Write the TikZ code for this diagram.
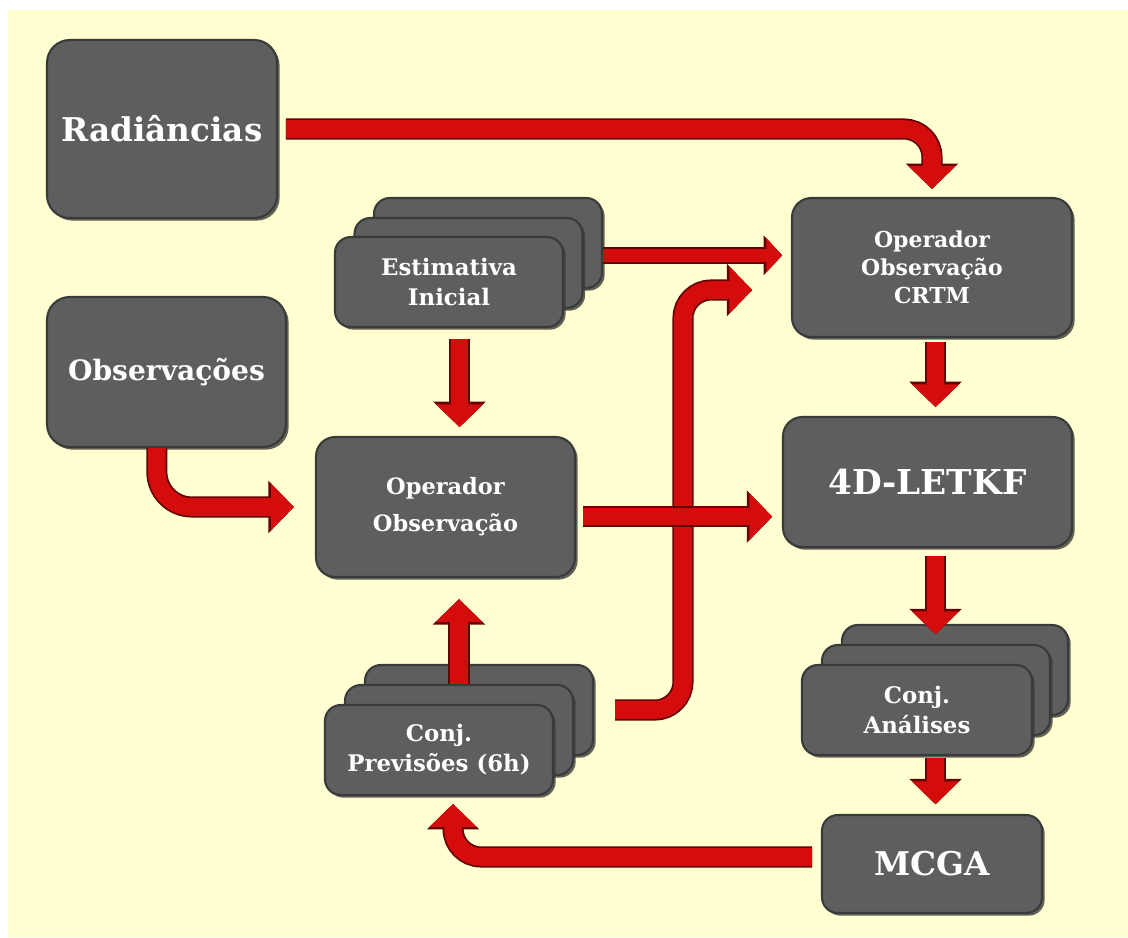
\documentclass[tikz,border=0pt]{standalone}
\usepackage{fontspec}
\setmainfont{DejaVu Serif}
\usetikzlibrary{arrows.meta,shadows}

\definecolor{bgyellow}{RGB}{255,255,210}
\definecolor{boxgray}{RGB}{94,94,94}
\definecolor{boxedge}{RGB}{58,58,58}
\definecolor{tubered}{RGB}{212,12,12}
\definecolor{tubedark}{RGB}{100,0,0}

\tikzset{
  blk/.style={draw=boxedge, line width=1.2pt, fill=boxgray, rounded corners=9pt,
    text=white, align=center, inner sep=0pt,
    drop shadow={shadow xshift=1.5pt, shadow yshift=-1.5pt, fill=boxedge, opacity=.8}},
  boxsize/.style 2 args={minimum width=#1*0.02cm, minimum height=#2*0.02cm},
  bigtxt/.style={font=\fontsize{#1}{20}\selectfont\bfseries},
  midtxt/.style={font=\fontsize{12.8}{21}\selectfont\bfseries},
  smalltxt/.style={font=\fontsize{13}{17}\selectfont\bfseries},
  crtmtxt/.style={font=\fontsize{12.5}{16}\selectfont\bfseries},
  tube/.style={draw=tubered, line width=10pt, rounded corners=16pt,
    -{Triangle[width=26pt,length=13pt]},
    preaction={draw=tubedark, line width=12pt, -{Triangle[width=29pt,length=14.5pt]}}},
  thintube/.style={draw=tubered, line width=7.5pt,
    -{Triangle[width=19pt,length=9pt]},
    preaction={draw=tubedark, line width=9.5pt, -{Triangle[width=22pt,length=10.5pt]}}}
}

\begin{document}
\begin{tikzpicture}[x=0.02cm, y=-0.02cm]
\useasboundingbox (0,0) rectangle (1128,937);
\fill[white] (0,0) rectangle (1128,937);
\fill[bgyellow] (8,10) rectangle (1128,937);

% left column
\node[blk, boxsize={230}{178}, bigtxt=18.6, rounded corners=13pt] (rad) at (162,129) {Radiâncias};
\node[blk, boxsize={239}{150}, bigtxt=16, rounded corners=13pt] (obs) at (166.5,372) {Observações};

% middle column
\node[blk, boxsize={228}{90}] (est3) at (488,243) {};
\node[blk, boxsize={228}{90}] (est2) at (468.5,263) {};
\node[blk, boxsize={228}{90}, smalltxt] (est) at (449,282) {Estimativa\\Inicial};
\node[blk, boxsize={259}{140}, midtxt, rounded corners=11pt] (opobs) at (445.5,507) {Operador\\Observação};
\node[blk, boxsize={228}{90}] (prev3) at (479,710) {};
\node[blk, boxsize={228}{90}] (prev2) at (459,730) {};
\node[blk, boxsize={228}{90}, smalltxt] (prev) at (439,750) {Conj.\\Previsões (6h)};

% right column
\node[blk, boxsize={280}{139}, crtmtxt, rounded corners=11pt] (crtm) at (932,267.5) {Operador\\Observação\\CRTM};
\node[blk, boxsize={289}{130}, bigtxt=19.5, rounded corners=11pt] (letkf) at (927.5,482) {4D-LETKF};
\node[blk, boxsize={226}{90}] (ana3) at (955,670) {};
\node[blk, boxsize={228}{90}] (ana2) at (936,690) {};
\node[blk, boxsize={230}{90}, smalltxt] (ana) at (917,710) {Conj.\\Análises};
\node[blk, boxsize={220}{98}, bigtxt=18.6] (mcga) at (932,864) {MCGA};

% connectors
\coordinate (bendup) at (683,290);
\draw[tube, shorten <=4.5pt, shorten >=4.5pt] (rad.east) -| (crtm.north);
\draw[thintube, shorten >=5pt] ([yshift=-7pt]est3.east) -- ([yshift=-7pt]est3.east -| crtm.west);
\draw[tube, shorten <=12pt, shorten >=22pt] (prev3.east) -| (bendup) -- (bendup -| crtm.west);
\draw[tube, shorten <=4pt, shorten >=5.5pt] ([yshift=-5.5pt]opobs.east) -- ([yshift=-5.5pt]opobs.east -| letkf.west);
\draw[tube, rounded corners=20pt, shorten >=12pt] ([xshift=-5.5pt]obs.south) |- (opobs.west);
\draw[tube, shorten <=6pt, shorten >=5pt] ([xshift=6pt]est.south) -- ([xshift=6pt]est.south |- opobs.north);
\draw[tube, shorten >=12pt] (prev2.north) -- (prev2.north |- opobs.south);
\draw[tube, shorten <=2pt, shorten >=5pt] ([xshift=2pt]crtm.south) -- ([xshift=2pt]crtm.south |- letkf.north);
\draw[tube, shorten <=4.5pt, shorten >=5.5pt] ([xshift=2pt]crtm.south |- letkf.south) -- ([xshift=2pt]crtm.south |- ana2.north);
\draw[tube, shorten <=1pt, shorten >=5.5pt] ([xshift=2pt]mcga.north |- ana.south) -- ([xshift=2pt]mcga.north);
\draw[tube, shorten <=5pt, shorten >=4.5pt] ([yshift=4pt]mcga.west) -| ([xshift=8pt]prev.south);
\end{tikzpicture}
\end{document}
